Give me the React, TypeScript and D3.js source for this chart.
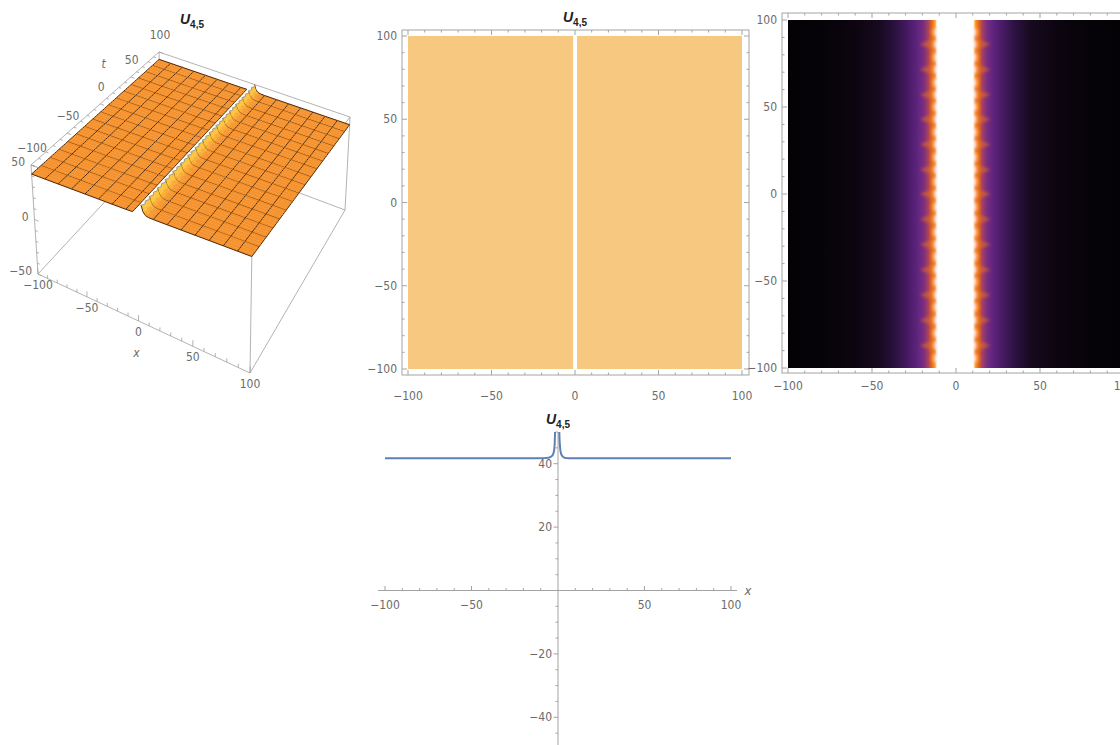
import React from "react";
import * as d3 from "d3";

const W = 1120;
const H = 745;
const FONT = "'Liberation Sans Narrow','DejaVu Sans Condensed','Liberation Sans',Arial,sans-serif";
const TITLE_FONT = "'Liberation Sans',Arial,sans-serif";
const FRAME = "#a3a3a3";
const LABEL = "#6b6b6b";

// U(x) on either side of the singular line, up to the top of the plot range (50)
const leftX = [-100, -87.5, -75, -62.5, -50, -37.5, -25, -12.5, -7.5, -6, -5, -4, -3.2, -2.6, -2.2, -1.9, -1.7];
const leftU = [41.7, 41.7, 41.7, 41.7, 41.7, 41.7, 41.7, 41.72, 41.8, 41.88, 41.98, 42.2, 42.6, 43.3, 44.3, 46.2, 50];
const rightX = [0.75, 0.9, 1.1, 1.4, 1.8, 2.3, 3, 3.8, 5, 6.5, 8, 12.5, 25, 37.5, 50, 62.5, 75, 87.5, 100];
const rightU = [50, 47.6, 45.6, 44.1, 43.1, 42.5, 42.1, 41.9, 41.8, 41.75, 41.72, 41.7, 41.7, 41.7, 41.7, 41.7, 41.7, 41.7, 41.7];

// 3D surface mesh samples along x (the cells around the singular line are clipped at z = 50)
const surfLeftX = [-100, -87.5, -75, -62.5, -50, -37.5, -25, -12.5, -6.25];
const surfLeftZ = [41.7, 41.7, 41.7, 41.7, 41.7, 41.7, 41.7, 41.72, 41.9];
const surfRightX = [1.5, 3.2, 5.5, 8.5, 12.5, 25, 37.5, 50, 62.5, 75, 87.5, 100];
const surfRightZ = [50, 45, 42.6, 41.85, 41.72, 41.7, 41.7, 41.7, 41.7, 41.7, 41.7, 41.7];
// the wall alternates between two offsets from row to row
const rowShift = [0, 1.8];

// contour plot
const contourFill = "#f6c880";
const contourGap = [-1.1, 1.2];

// density plot: colour level against distance from the singular line
const densCenter = -0.5;
const densDist = [0, 10.8, 11.6, 12.6, 14, 16, 19, 23, 28, 35, 45, 60, 80, 101];
const densLevel = [1, 1, 0.86, 0.76, 0.66, 0.57, 0.48, 0.4, 0.31, 0.21, 0.1, 0.04, 0.012, 0];
const levelStops = [0, 0.1, 0.2, 0.32, 0.45, 0.55, 0.65, 0.75, 0.87, 1];
const levelColors = ["#040205", "#170a1f", "#2c1140", "#4a1c68", "#68288a", "#9a3a6e", "#e0621e", "#f8861c", "#fcb650", "#ffffff"];
const bigRippleT = [86, 71.5, 57, 43, 28.5, 14, 0, -14.5, -29, -43.5, -58, -72.5, -87];
const smallRippleT = [93, 78.5, 64, 50, 35.5, 21, 7, -7.5, -22, -36, -50.5, -65, -80, -94.5];

const frameMajor = [-100, -50, 0, 50, 100];
const lineXMajor = [-100, -50, 50, 100];
const lineYMajor = [-40, -20, 20, 40];

// ---------- 3D view: bottom (z = -50) and top (z = 50) faces of the box on screen ----------
// corner order: (x,t) = (-100,-100), (100,-100), (100,100), (-100,100)
const bottomFace: [number, number][] = [[38, 274], [250, 373], [345, 210], [161, 141]];
const topFace: [number, number][] = [[31, 165], [252, 246], [350, 117], [159, 52]];

// projective map of the unit square onto a quadrilateral
function squareToQuad(q: [number, number][]) {
  const [[x0, y0], [x1, y1], [x2, y2], [x3, y3]] = q;
  const dx1 = x1 - x2, dx2 = x3 - x2, dx3 = x0 - x1 + x2 - x3;
  const dy1 = y1 - y2, dy2 = y3 - y2, dy3 = y0 - y1 + y2 - y3;
  const den = dx1 * dy2 - dx2 * dy1;
  const g = (dx3 * dy2 - dx2 * dy3) / den;
  const h = (dx1 * dy3 - dx3 * dy1) / den;
  const a = x1 - x0 + g * x1, b = x3 - x0 + h * x3, c = x0;
  const d = y1 - y0 + g * y1, e = y3 - y0 + h * y3, f = y0;
  return (u: number, v: number): [number, number] => {
    const w = g * u + h * v + 1;
    return [(a * u + b * v + c) / w, (d * u + e * v + f) / w];
  };
}
const mapBottom = squareToQuad(bottomFace);
const mapTop = squareToQuad(topFace);
function proj(x: number, t: number, z: number): [number, number] {
  const u = (x + 100) / 200, v = (t + 100) / 200, w = (z + 50) / 100;
  const p = mapBottom(u, v), q = mapTop(u, v);
  return [p[0] + (q[0] - p[0]) * w, p[1] + (q[1] - p[1]) * w];
}
const pt = (p: [number, number]) => `${p[0].toFixed(2)},${p[1].toFixed(2)}`;
const num = (v: number) => (v < 0 ? `\u2212${-v}` : `${v}`);

function Title({ x, y }: { x: number; y: number }) {
  return (
    <text x={x} y={y} textAnchor="middle" fontFamily={TITLE_FONT} fontWeight="bold" fill="#222">
      <tspan fontStyle="italic" fontSize={14}>U</tspan>
      <tspan fontSize={10} dy={4}>4,5</tspan>
    </text>
  );
}

const isMesh = (v: number) => Math.abs(v / 12.5 - Math.round(v / 12.5)) < 1e-6;
const MESH = "#4c2c10";
const BOXLINE = "#a0a0a0";

function Surface3D() {
  const els: React.ReactNode[] = [];
  const tRows = d3.range(-100, 100.001, 3.125);
  const shiftAt = (xv: number, r: number) => (xv > 0 && xv < 10 ? xv + rowShift[r % 2] : xv);
  const flat = d3.rgb("#f5922e");
  const bright = d3.rgb("#fdc63e");

  // bounding box
  const edges: [number[], number[]][] = [];
  const cs = [-100, 100];
  for (const a of cs) for (const b of cs) edges.push([[a, b, -50], [a, b, 50]]);
  for (const a of cs) for (const c of [-50, 50]) edges.push([[a, -100, c], [a, 100, c]]);
  for (const b of cs) for (const c of [-50, 50]) edges.push([[-100, b, c], [100, b, c]]);
  edges.forEach((e, i) => {
    const p = proj(e[0][0], e[0][1], e[0][2]);
    const q = proj(e[1][0], e[1][1], e[1][2]);
    els.push(<line key={`be${i}`} x1={p[0]} y1={p[1]} x2={q[0]} y2={q[1]} stroke={BOXLINE} strokeWidth={0.8} />);
  });

  // axis ticks and labels
  d3.range(-100, 100.001, 10).forEach((x) => {
    const major = x % 50 === 0;
    const p = proj(x, -100, -50), q = proj(x, -100, -50 + (major ? 5 : 3));
    els.push(<line key={`xt${x}`} x1={p[0]} y1={p[1]} x2={q[0]} y2={q[1]} stroke={BOXLINE} strokeWidth={0.8} />);
    if (major)
      els.push(<text key={`xl${x}`} x={p[0]} y={p[1] + 15} textAnchor="middle" fontSize={12} fill={LABEL}>{num(x)}</text>);
  });
  d3.range(-50, 50.001, 10).forEach((z) => {
    const major = z % 50 === 0;
    const p = proj(-100, -100, z), q = proj(-100 + (major ? 4 : 2.5), -100, z);
    els.push(<line key={`zt${z}`} x1={p[0]} y1={p[1]} x2={q[0]} y2={q[1]} stroke={BOXLINE} strokeWidth={0.8} />);
    if (major)
      els.push(<text key={`zl${z}`} x={p[0] - 6} y={p[1] + 1} textAnchor="end" fontSize={12} fill={LABEL}>{num(z)}</text>);
  });
  d3.range(-100, 100.001, 10).forEach((t) => {
    const major = t % 50 === 0;
    const p = proj(-100, t, 50), q = proj(-100 + (major ? 4 : 2.5), t, 50);
    els.push(<line key={`tt${t}`} x1={p[0]} y1={p[1]} x2={q[0]} y2={q[1]} stroke={BOXLINE} strokeWidth={0.8} />);
    if (major)
      els.push(<text key={`tl${t}`} x={p[0] + 1} y={p[1] - 13} textAnchor="middle" fontSize={12} fill={LABEL}>{num(t)}</text>);
  });
  const xl = proj(0, -100, -50);
  els.push(<text key="xlab" x={xl[0] - 2} y={xl[1] + 36} textAnchor="middle" fontSize={12} fontStyle="italic" fill={LABEL}>x</text>);
  const tl = proj(-100, 25, 50);
  els.push(<text key="tlab" x={tl[0] - 12} y={tl[1] - 22} textAnchor="middle" fontSize={12} fontStyle="italic" fill={LABEL}>t</text>);

  // surface, drawn back to front
  for (let j = tRows.length - 2; j >= 0; j--) {
    const t0 = tRows[j], t1 = tRows[j + 1];
    [[surfLeftX, surfLeftZ], [surfRightX, surfRightZ]].forEach(([bx, bz], side) => {
      for (let i = 0; i < bx.length - 1; i++) {
        const slope = ((bz[i + 1] - bz[i]) / (bx[i + 1] - bx[i])) * 0.8;
        const a0 = proj(shiftAt(bx[i], j), t0, bz[i]);
        const b0 = proj(shiftAt(bx[i + 1], j), t0, bz[i + 1]);
        const b1 = proj(shiftAt(bx[i + 1], j + 1), t1, bz[i + 1]);
        const a1 = proj(shiftAt(bx[i], j + 1), t1, bz[i]);
        const col = slope < 0 ? d3.interpolateRgb(flat, bright)(Math.min(1, -slope / 1.6)) : flat.formatHex();
        els.push(
          <polygon key={`q${j}-${side}-${i}`} points={[a0, b0, b1, a1].map(pt).join(" ")} fill={col} stroke={col} strokeWidth={0.4} />
        );
        if (isMesh(t0))
          els.push(<line key={`mt${j}-${side}-${i}`} x1={a0[0]} y1={a0[1]} x2={b0[0]} y2={b0[1]} stroke={MESH} strokeWidth={1} />);
        if (j === tRows.length - 2)
          els.push(<line key={`mb${j}-${side}-${i}`} x1={a1[0]} y1={a1[1]} x2={b1[0]} y2={b1[1]} stroke={MESH} strokeWidth={1} />);
        if (isMesh(bx[i]) || (side === 1 && i === 0))
          els.push(<line key={`mx${j}-${side}-${i}`} x1={a0[0]} y1={a0[1]} x2={a1[0]} y2={a1[1]} stroke={side === 1 && i === 0 ? "#9a9a9a" : MESH} strokeWidth={1} />);
        if (i === bx.length - 2)
          els.push(<line key={`me${j}-${side}`} x1={b0[0]} y1={b0[1]} x2={b1[0]} y2={b1[1]} stroke={MESH} strokeWidth={1} />);
      }
    });
  }

  return (
    <g>
      {els}
      <Title x={192} y={24} />
    </g>
  );
}

type FrameProps = {
  xs: d3.ScaleLinear<number, number>;
  ys: d3.ScaleLinear<number, number>;
  left: number; right: number; top: number; bottom: number;
  xLabelY: number;
};
function FrameAxes({ xs, ys, left, right, top, bottom, xLabelY }: FrameProps) {
  const minor = d3.range(-100, 100.001, 10);
  const els: React.ReactNode[] = [];
  els.push(<rect key="fr" x={left} y={top} width={right - left} height={bottom - top} fill="none" stroke={FRAME} strokeWidth={1} />);
  minor.forEach((v) => {
    const len = v % 50 === 0 ? 5 : 2.5;
    const x = xs(v), y = ys(v);
    els.push(<line key={`b${v}`} x1={x} x2={x} y1={bottom} y2={bottom - len} stroke={FRAME} />);
    els.push(<line key={`t${v}`} x1={x} x2={x} y1={top} y2={top + len} stroke={FRAME} />);
    els.push(<line key={`l${v}`} x1={left} x2={left + len} y1={y} y2={y} stroke={FRAME} />);
    els.push(<line key={`r${v}`} x1={right} x2={right - len} y1={y} y2={y} stroke={FRAME} />);
  });
  frameMajor.forEach((v) => {
    els.push(<text key={`xl${v}`} x={xs(v)} y={xLabelY} textAnchor="middle" fontSize={12} fill={LABEL}>{num(v)}</text>);
    els.push(<text key={`yl${v}`} x={left - 5} y={ys(v) + 4} textAnchor="end" fontSize={12} fill={LABEL}>{num(v)}</text>);
  });
  return <g>{els}</g>;
}

function ContourPanel() {
  const xs = d3.scaleLinear().domain([-100, 100]).range([408, 742]);
  const ys = d3.scaleLinear().domain([-100, 100]).range([369, 36]);
  return (
    <g>
      <rect x={xs(-100)} y={ys(100)} width={xs(contourGap[0]) - xs(-100)} height={ys(-100) - ys(100)} fill={contourFill} />
      <rect x={xs(contourGap[1])} y={ys(100)} width={xs(100) - xs(contourGap[1])} height={ys(-100) - ys(100)} fill={contourFill} />
      <FrameAxes xs={xs} ys={ys} left={402} right={749} top={30} bottom={375} xLabelY={400} />
      <Title x={575} y={22} />
    </g>
  );
}

function DensityPanel() {
  const xs = d3.scaleLinear().domain([-100, 100]).range([788, 1124]);
  const ys = d3.scaleLinear().domain([-100, 100]).range([368, 20]);
  const color = d3.scaleLinear<string>().domain(levelStops).range(levelColors).interpolate(d3.interpolateRgb);
  const x0 = xs(-100), x1 = xs(100);
  const stops: { off: number; c: string }[] = [];
  for (let k = densDist.length - 1; k >= 0; k--) {
    const px = xs(Math.max(-100, densCenter - densDist[k]));
    stops.push({ off: (px - x0) / (x1 - x0), c: color(densLevel[k]) });
  }
  for (let k = 1; k < densDist.length; k++) {
    const px = xs(Math.min(100, densCenter + densDist[k]));
    stops.push({ off: (px - x0) / (x1 - x0), c: color(densLevel[k]) });
  }
  const pxPerUnit = (x1 - x0) / 200;
  const edge = densDist[1];
  const ripples: React.ReactNode[] = [];
  bigRippleT.forEach((t, i) => {
    for (const sgn of [-1, 1]) {
      const a = xs(densCenter + sgn * (edge + 1));
      const b = xs(densCenter + sgn * 21);
      const m = xs(densCenter + sgn * 15);
      ripples.push(
        <polygon key={`br${i}${sgn}`} points={`${a},${ys(t) - 9} ${m},${ys(t) - 4} ${b},${ys(t)} ${m},${ys(t) + 4} ${a},${ys(t) + 9}`} fill="#d9642a" opacity={0.7} />
      );
    }
  });
  [...bigRippleT, ...smallRippleT].forEach((t, i) => {
    for (const sgn of [-1, 1]) {
      ripples.push(<ellipse key={`so${i}${sgn}`} cx={xs(densCenter + sgn * (edge + 1.3))} cy={ys(t)} rx={2 * pxPerUnit} ry={4.8} fill="#fa8e22" />);
      ripples.push(<ellipse key={`sw${i}${sgn}`} cx={xs(densCenter + sgn * (edge - 0.2))} cy={ys(t)} rx={1.4 * pxPerUnit} ry={4.2} fill="#ffffff" />);
    }
  });
  return (
    <g>
      <defs>
        <linearGradient id="densGrad" gradientUnits="userSpaceOnUse" x1={x0} x2={x1} y1={0} y2={0}>
          {stops.map((s, i) => (
            <stop key={i} offset={s.off} stopColor={s.c} />
          ))}
        </linearGradient>
        <clipPath id="densClip">
          <rect x={x0} y={ys(100)} width={x1 - x0} height={ys(-100) - ys(100)} />
        </clipPath>
        <filter id="densSoft" x="-5%" y="-5%" width="110%" height="110%">
          <feGaussianBlur stdDeviation={1.5} />
        </filter>
      </defs>
      <rect x={x0} y={ys(100)} width={x1 - x0} height={ys(-100) - ys(100)} fill="url(#densGrad)" />
      <g clipPath="url(#densClip)">
        <g filter="url(#densSoft)">
          {ripples}
          <rect x={xs(densCenter - edge + 0.3)} y={ys(100) - 5} width={xs(densCenter + edge - 0.3) - xs(densCenter - edge + 0.3)} height={ys(-100) - ys(100) + 10} fill="#fff" />
        </g>
      </g>
      <FrameAxes xs={xs} ys={ys} left={782} right={1130} top={13} bottom={373} xLabelY={390} />
    </g>
  );
}

function LinePanel() {
  const xs = d3.scaleLinear().domain([-100, 100]).range([385, 731]);
  const ys = d3.scaleLinear().domain([-50, 50]).range([749, 432]);
  const mk = (X: number[], U: number[]) =>
    d3.line<[number, number]>().x((d) => xs(d[0])).y((d) => ys(d[1]))(X.map((x, i) => [x, U[i]] as [number, number])) || "";
  const axisY = ys(0), axisX = xs(0);
  const xMinor = d3.range(-100, 100.001, 10).filter((v) => v !== 0 && !lineXMajor.includes(v));
  const yMinor = d3.range(-50, 50.001, 5).filter((v) => v !== 0 && !lineYMajor.includes(v));
  return (
    <g>
      <line x1={378} x2={737} y1={axisY} y2={axisY} stroke={FRAME} />
      <line x1={axisX} x2={axisX} y1={ys(50)} y2={H} stroke={FRAME} />
      {xMinor.map((v) => (
        <line key={`xm${v}`} x1={xs(v)} x2={xs(v)} y1={axisY} y2={axisY - 2.5} stroke={FRAME} />
      ))}
      {lineXMajor.map((v) => (
        <g key={`xM${v}`}>
          <line x1={xs(v)} x2={xs(v)} y1={axisY} y2={axisY - 4.5} stroke={FRAME} />
          <text x={xs(v)} y={axisY + 18} textAnchor="middle" fontSize={12} fill={LABEL}>{num(v)}</text>
        </g>
      ))}
      {yMinor.map((v) => (
        <line key={`ym${v}`} x1={axisX} x2={axisX - 2.5} y1={ys(v)} y2={ys(v)} stroke={FRAME} />
      ))}
      {lineYMajor.map((v) => (
        <g key={`yM${v}`}>
          <line x1={axisX} x2={axisX - 4.5} y1={ys(v)} y2={ys(v)} stroke={FRAME} />
          <text x={axisX - 6} y={ys(v) + 4} textAnchor="end" fontSize={12} fill={LABEL}>{num(v)}</text>
        </g>
      ))}
      <text x={748} y={axisY + 4} textAnchor="middle" fontSize={13} fontStyle="italic" fill={LABEL}>x</text>
      <path d={mk(leftX, leftU)} fill="none" stroke="#5e81b5" strokeWidth={2} />
      <path d={mk(rightX, rightU)} fill="none" stroke="#5e81b5" strokeWidth={2} />
      <Title x={558} y={424} />
    </g>
  );
}

export default function App() {
  return (
    <svg width={W} height={H} style={{ position: "absolute", left: 0, top: 0, background: "#fff" }} fontFamily={FONT}>
      <rect x={0} y={0} width={W} height={H} fill="#fff" />
      <Surface3D />
      <ContourPanel />
      <DensityPanel />
      <LinePanel />
    </svg>
  );
}
